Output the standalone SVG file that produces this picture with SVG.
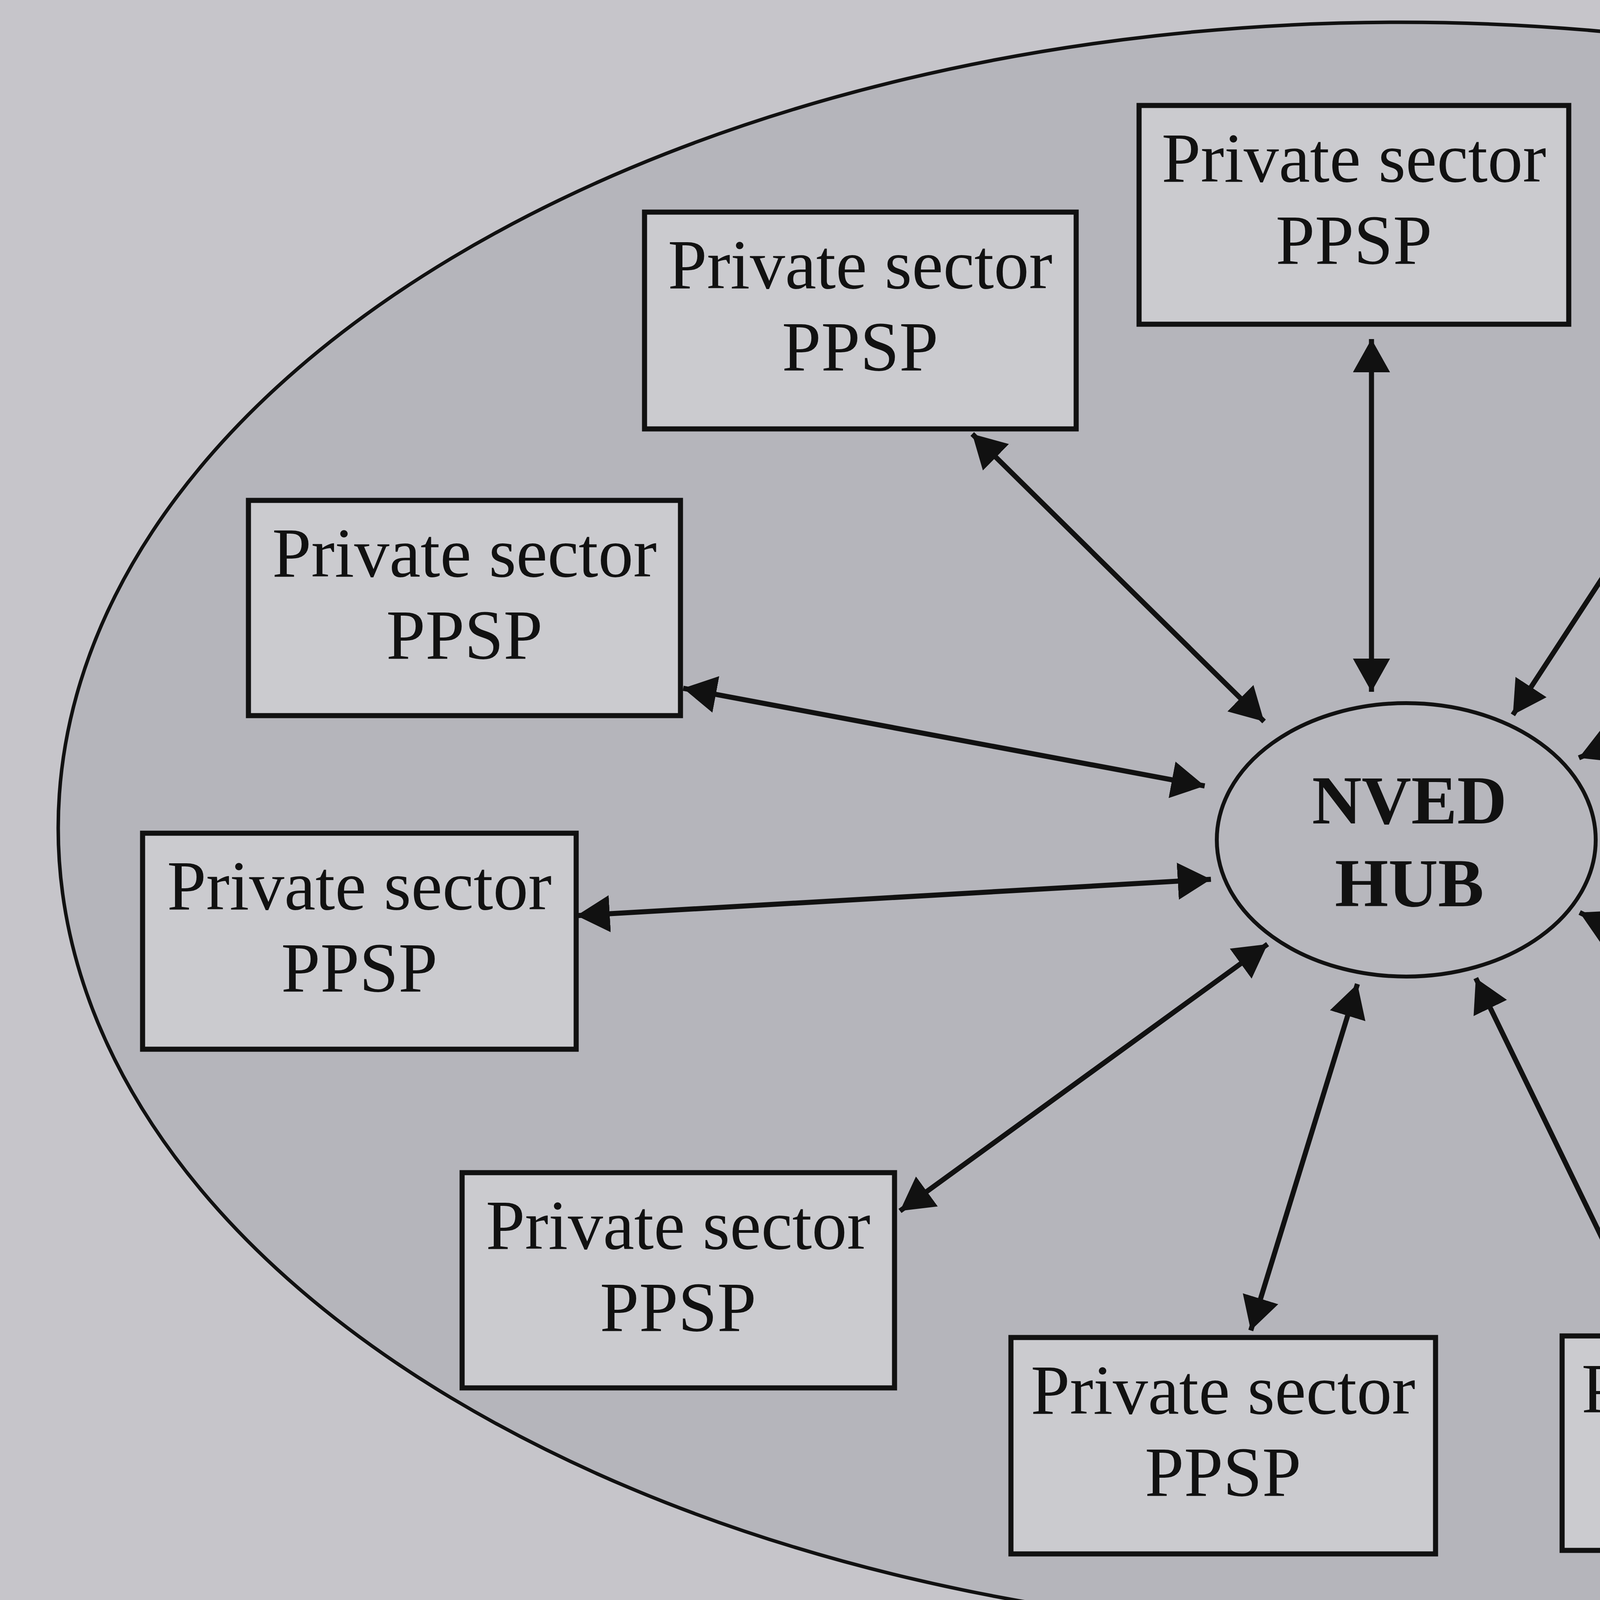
<svg xmlns="http://www.w3.org/2000/svg" width="6973" height="4428" viewBox="0 0 6973 4428">
<style>
.bg{fill:#c6c5ca}
.sys{fill:#b5b5bb;stroke:#111;stroke-width:9}
.box{fill:#cbcbcf;stroke:#111;stroke-width:13}
.hub{fill:#b7b7bd;stroke:#111;stroke-width:10}
.t{font-family:"Liberation Serif","Times New Roman",serif;font-size:180px;fill:#111;text-anchor:middle}
.hb{font-family:"Liberation Serif","Times New Roman",serif;font-size:176px;font-weight:bold;fill:#111;text-anchor:middle}
.lg{font-family:"Liberation Serif","Times New Roman",serif;font-size:178px;fill:#111}
.c line{stroke:#111;stroke-width:13;marker-start:url(#ah);marker-end:url(#ah)}
</style>
<defs>
<marker id="ah" markerUnits="userSpaceOnUse" markerWidth="90" markerHeight="100" refX="85" refY="47.5" orient="auto-start-reverse" viewBox="0 0 90 100">
<path d="M0,0 L85,47.5 L0,95 z" fill="#111"/>
</marker>
</defs>
<rect class="bg" x="0" y="0" width="6973" height="4428"/>
<g id="system">
<ellipse class="sys" cx="3585" cy="2120" rx="3436" ry="2063"/>
</g>
<g id="connectors" class="c">
<line x1="3511" y1="868" x2="3511" y2="1771"/>
<line x1="2489" y1="1111" x2="3236" y2="1847"/>
<line x1="4380" y1="1054" x2="3873" y2="1830"/>
<line x1="1749" y1="1762" x2="3084" y2="2012"/>
<line x1="5368" y1="1379" x2="4042" y2="1940"/>
<line x1="1476" y1="2344" x2="3100" y2="2251"/>
<line x1="4112" y1="2096" x2="5786" y2="2166"/>
<line x1="4044" y1="2336" x2="5171" y2="2891"/>
<line x1="2304" y1="3100" x2="3245" y2="2417"/>
<line x1="3202" y1="3406" x2="3475" y2="2519"/>
<line x1="3778" y1="2504" x2="4216" y2="3406"/>
</g>
<g id="hub">
<ellipse class="hub" cx="3600" cy="2150" rx="485" ry="350"/>
<text class="hb" x="3608" y="2108">NVED</text>
<text class="hb" x="3608" y="2320">HUB</text>
</g>
<g id="ppsp1"><rect class="box" x="2916" y="270" width="1100" height="560"/><text class="t" x="3466" y="465">Private sector</text><text class="t" x="3466" y="675">PPSP</text></g>
<g id="ppsp2"><rect class="box" x="1650" y="543" width="1105" height="555"/><text class="t" x="2202" y="738">Private sector</text><text class="t" x="2202" y="948">PPSP</text></g>
<g id="ppsp3"><rect class="box" x="4238" y="458" width="1090" height="555"/><text class="t" x="4783" y="653">Private sector</text><text class="t" x="4783" y="863">PPSP</text></g>
<g id="ppsp4"><rect class="box" x="636" y="1281" width="1106" height="551"/><text class="t" x="1189" y="1476">Private sector</text><text class="t" x="1189" y="1686">PPSP</text></g>
<g id="ppsp5"><rect class="box" x="5399" y="1165" width="1085" height="547"/><text class="t" x="5941" y="1360">Private sector</text><text class="t" x="5941" y="1570">PPSP</text></g>
<g id="ppsp6"><rect class="box" x="365" y="2133" width="1110" height="553"/><text class="t" x="920" y="2328">Private sector</text><text class="t" x="920" y="2538">PPSP</text></g>
<g id="ppsp7"><rect class="box" x="5805" y="1914" width="1090" height="550"/><text class="t" x="6350" y="2109">Private sector</text><text class="t" x="6350" y="2319">PPSP</text></g>
<g id="ppsp8"><rect class="box" x="5199" y="2730" width="1085" height="552"/><text class="t" x="5741" y="2925">Private sector</text><text class="t" x="5741" y="3135">PPSP</text></g>
<g id="ppsp9"><rect class="box" x="1183" y="3002" width="1107" height="551"/><text class="t" x="1736" y="3197">Private sector</text><text class="t" x="1736" y="3407">PPSP</text></g>
<g id="ppsp10"><rect class="box" x="2588" y="3424" width="1087" height="554"/><text class="t" x="3131" y="3619">Private sector</text><text class="t" x="3131" y="3829">PPSP</text></g>
<g id="ppsp11"><rect class="box" x="3999" y="3420" width="1084" height="549"/><text class="t" x="4541" y="3615">Private sector</text><text class="t" x="4541" y="3825">PPSP</text></g>
<g id="legend">
<ellipse class="sys" cx="333" cy="4312" rx="282" ry="142"/>
<text class="lg" x="702" y="4378">The NVED system</text>
</g>
</svg>
